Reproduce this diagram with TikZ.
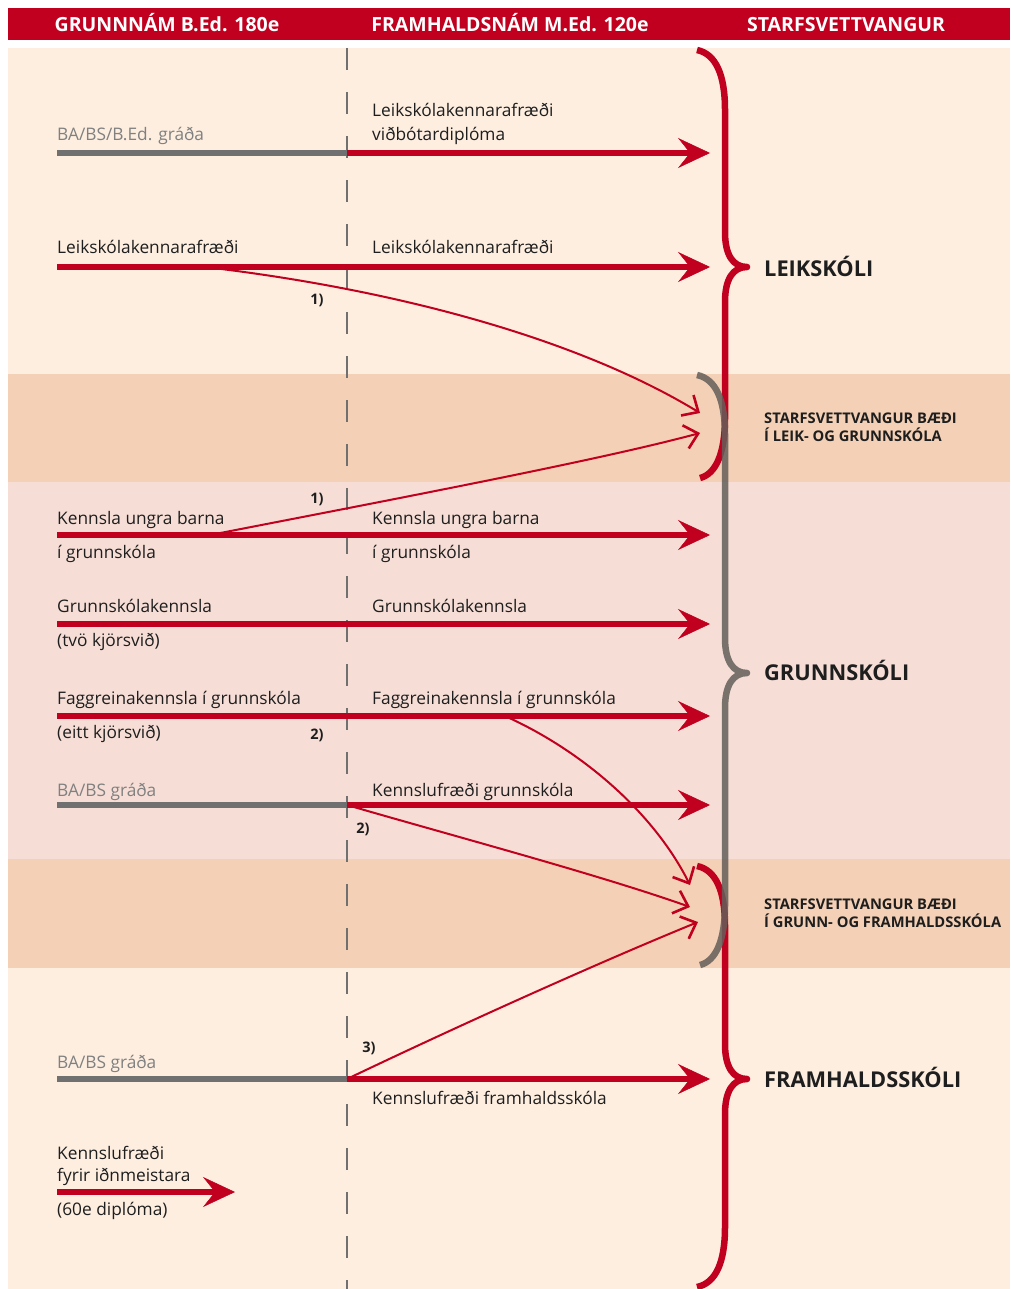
\documentclass[tikz,border=0pt]{standalone}
\usepackage{fontspec}
\setmainfont{Open Sans}
\usetikzlibrary{arrows.meta}
\definecolor{hired}{RGB}{192,0,30}
\definecolor{pale}{RGB}{253,238,224}
\definecolor{band}{RGB}{244,209,182}
\definecolor{pinkish}{RGB}{246,222,214}
\definecolor{greyline}{RGB}{112,112,112}
\definecolor{greytext}{RGB}{128,128,128}
\definecolor{greybrace}{RGB}{100,95,90}
\definecolor{darktext}{RGB}{30,30,30}
\begin{document}
\begin{tikzpicture}[x=1pt,y=-1pt,
  head/.style={anchor=base,inner sep=0pt,text=white,font=\bfseries\fontsize{19.5}{22}\selectfont},
  lbl/.style={anchor=base west,inner sep=0pt,text=darktext,font=\fontsize{17.3}{19}\selectfont},
  glbl/.style={lbl,text=greytext},
  school/.style={anchor=base west,inner sep=0pt,text=darktext,font=\bfseries\fontsize{21.8}{24}\selectfont},
  both/.style={anchor=base west,inner sep=0pt,text=darktext,font=\bfseries\fontsize{14.7}{18}\selectfont},
  note/.style={inner sep=0pt,text=darktext,font=\bfseries\fontsize{14.5}{16}\selectfont},
  bigarrow/.style={draw=hired,line width=5.5pt,-{Stealth[length=32pt,width=30pt,inset=12pt,line width=0.5pt]}},
  thinarrow/.style={draw=hired,line width=2pt,-{Straight Barb[length=13pt,width=24pt,line width=2.6pt]}},
  greybar/.style={draw=greyline,line width=5.5pt},
  brace/.style={line width=6.5pt,line join=round}]
  \useasboundingbox (0,0) rectangle (1010,1289);
  % backgrounds
  \fill[white] (0,0) rectangle (1010,1289);
  \fill[hired] (8,8) rectangle (1010,40);
  \fill[pale] (8,48) rectangle (1010,374);
  \fill[band] (8,374) rectangle (1010,482);
  \fill[pinkish] (8,482) rectangle (1010,859);
  \fill[band] (8,859) rectangle (1010,968);
  \fill[pale] (8,968) rectangle (1010,1289);
  % header
  \node[head] (h1) at (167,32) {GRUNNNÁM B.Ed. 180e};
  \node[head] (h2) at (510,32) {FRAMHALDSNÁM M.Ed. 120e};
  \node[head] (h3) at (846,32) {STARFSVETTVANGUR};
  % dividing line
  \draw[greyline,line width=1.3pt,dash pattern=on 22pt off 22pt] (347,48) -- (347,1289);
  % braces
  \draw[brace,hired] (697,50) .. controls (716,54) and (725,75) .. (725,110) -- (725,232)
    .. controls (725,255) and (733,267) .. (747,267) .. controls (733,267) and (725,279) .. (725,302)
    -- (725,418) .. controls (725,453) and (716,474) .. (700,478);
  \draw[brace,hired] (697,866) .. controls (716,870) and (725,891) .. (725,926) -- (725,1044)
    .. controls (725,1067) and (733,1079) .. (747,1079) .. controls (733,1079) and (725,1091) .. (725,1114)
    -- (725,1227) .. controls (725,1262) and (716,1283) .. (697,1287);
  \draw[brace,greybrace,opacity=.85] (697,375) .. controls (716,379) and (725,400) .. (725,435) -- (725,638)
    .. controls (725,661) and (733,673) .. (747,673) .. controls (733,673) and (725,685) .. (725,708)
    -- (725,905) .. controls (725,940) and (716,961) .. (700,965);
  \node[school] (leik) at (764,276) {LEIKSKÓLI};
  \node[school] (grunn) at (764,680) {GRUNNSKÓLI};
  \node[school] (fram) at (764,1087) {FRAMHALDSSKÓLI};
  \node[both] (b1a) at (764,423) {STARFSVETTVANGUR BÆÐI};
  \node[both] (b1b) at (764,441) {Í LEIK- OG GRUNNSKÓLA};
  \node[both] (b2a) at (764,909) {STARFSVETTVANGUR BÆÐI};
  \node[both] (b2b) at (764,927) {Í GRUNN- OG FRAMHALDSSKÓLA};
  % row coordinates
  \coordinate (s1) at (57,153);   \coordinate (m1) at (347,153);  \coordinate (e1) at (710,153);
  \coordinate (s2) at (57,267);   \coordinate (e2) at (710,267);
  \coordinate (s3) at (57,535);   \coordinate (e3) at (710,535);
  \coordinate (s4) at (57,624);   \coordinate (e4) at (710,624);
  \coordinate (s5) at (57,716);   \coordinate (e5) at (710,716);
  \coordinate (s6) at (57,805);   \coordinate (m6) at (347,805);  \coordinate (e6) at (710,805);
  \coordinate (s7) at (57,1079);  \coordinate (m7) at (347,1079); \coordinate (e7) at (710,1079);
  \coordinate (s8) at (57,1192);  \coordinate (e8) at (235,1192);
  \coordinate (k2) at (205,267);  \coordinate (k3) at (210,535);  \coordinate (k5) at (505,716);
  \coordinate (t1) at (700,413);  \coordinate (t2) at (700,433);
  \coordinate (t3) at (690,885);  \coordinate (t4) at (690,907);  \coordinate (t5) at (698,922);
  % labels
  \node[glbl] (l1) at (57,141) {BA/BS/B.Ed. gráða};
  \node[lbl] (r1a) at (372,117) {Leikskólakennarafræði};
  \node[lbl] (r1b) at (372,141) {viðbótardiplóma};
  \node[lbl] (l2) at (57,254) {Leikskólakennarafræði};
  \node[lbl] (r2) at (372,254) {Leikskólakennarafræði};
  \node[lbl] (l3a) at (57,524) {Kennsla ungra barna};
  \node[lbl] (l3b) at (57,558) {í grunnskóla};
  \node[lbl] (r3a) at (372,524) {Kennsla ungra barna};
  \node[lbl] (r3b) at (372,558) {í grunnskóla};
  \node[lbl] (l4a) at (57,612) {Grunnskólakennsla};
  \node[lbl] (l4b) at (57,646) {(tvö kjörsvið)};
  \node[lbl] (r4) at (372,612) {Grunnskólakennsla};
  \node[lbl] (l5a) at (57,704) {Faggreinakennsla í grunnskóla};
  \node[lbl] (l5b) at (57,738) {(eitt kjörsvið)};
  \node[lbl] (r5) at (372,704) {Faggreinakennsla í grunnskóla};
  \node[glbl] (l6) at (57,796) {BA/BS gráða};
  \node[lbl] (r6) at (372,796) {Kennslufræði grunnskóla};
  \node[glbl] (l7) at (57,1068) {BA/BS gráða};
  \node[lbl] (r7) at (372,1104) {Kennslufræði framhaldsskóla};
  \node[lbl] (l8a) at (57,1159) {Kennslufræði};
  \node[lbl] (l8b) at (57,1181) {fyrir iðnmeistara};
  \node[lbl] (l8c) at (57,1215) {(60e diplóma)};
  \node[note] (n1) at (317,300) {1)};
  \node[note] (n2) at (317,499) {1)};
  \node[note] (n3) at (317,735) {2)};
  \node[note] (n4) at (363,829) {2)};
  \node[note] (n5) at (369,1048) {3)};
  % arrows
  \draw[greybar] (s1) -- (m1);
  \draw[greybar] (s6) -- (m6);
  \draw[greybar] (s7) -- (m7);
  \draw[thinarrow] (k2) .. controls (400,290) and (580,340) .. (t1);
  \draw[thinarrow] (k3) .. controls (400,498) and (600,460) .. (t2);
  \draw[thinarrow] (k5) .. controls (585,752) and (655,815) .. (t3);
  \draw[thinarrow] (m6) .. controls (450,835) and (600,875) .. (t4);
  \draw[thinarrow] (m7) .. controls (460,1025) and (600,962) .. (t5);
  \draw[bigarrow] (m1) -- (e1);
  \draw[bigarrow] (s2) -- (e2);
  \draw[bigarrow] (s3) -- (e3);
  \draw[bigarrow] (s4) -- (e4);
  \draw[bigarrow] (s5) -- (e5);
  \draw[bigarrow] (m6) -- (e6);
  \draw[bigarrow] (m7) -- (e7);
  \draw[bigarrow] (s8) -- (e8);
\end{tikzpicture}
\end{document}
